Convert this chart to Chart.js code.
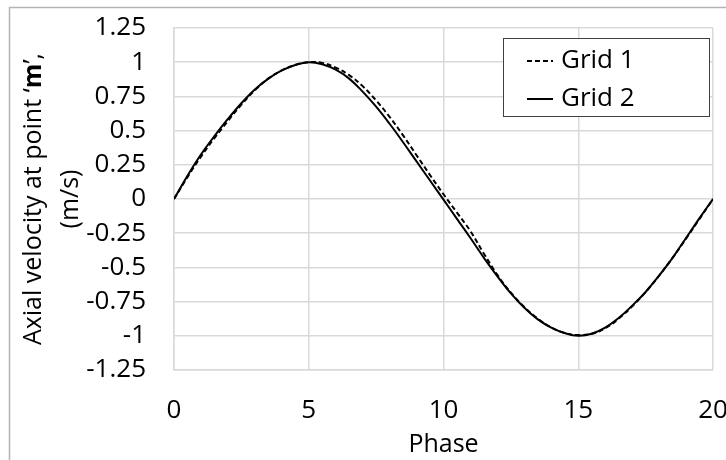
<!DOCTYPE html>
<html>
<head>
<meta charset="utf-8">
<script src="https://cdn.jsdelivr.net/npm/chart.js@4.4.0/dist/chart.umd.min.js"></script>
<style>
  html, body { margin: 0; padding: 0; background: #fff; }
</style>
</head>
<body>
<canvas id="velocity" width="726" height="460"></canvas>
<script>
// phase values (x) shared by both grids
const phase = [0, 0.5, 1, 1.5, 2, 2.5, 3, 3.5, 4, 4.5, 5, 5.5, 6, 6.5, 7, 7.5, 8, 8.5, 9, 9.5, 10,
  10.5, 11, 11.5, 12, 12.5, 13, 13.5, 14, 14.5, 15, 15.5, 16, 16.5, 17, 17.5, 18, 18.5, 19, 19.5, 20];

// Grid 1 (dashed)
const grid1 = [0, 0.16, 0.31, 0.445, 0.57, 0.69, 0.795, 0.88, 0.94, 0.98, 1.0, 0.995, 0.96, 0.905, 0.825, 0.72, 0.60, 0.465, 0.32, 0.175, 0.035,
  -0.10, -0.235, -0.40, -0.555, -0.685, -0.79, -0.875, -0.94, -0.98, -0.995, -0.985, -0.945, -0.875, -0.785, -0.68, -0.56, -0.43, -0.29, -0.145, 0];

// Grid 2 (solid)
const grid2 = [0, 0.17, 0.325, 0.46, 0.585, 0.70, 0.80, 0.88, 0.94, 0.98, 1.0, 0.985, 0.945, 0.88, 0.785, 0.675, 0.55, 0.415, 0.275, 0.135, -0.005,
  -0.145, -0.285, -0.43, -0.565, -0.69, -0.795, -0.88, -0.94, -0.98, -1.0, -0.985, -0.94, -0.87, -0.78, -0.68, -0.56, -0.43, -0.285, -0.14, 0];

const seriesNames = ['Grid 1', 'Grid 2'];
const xTicks = [0, 5, 10, 15, 20];
const yTicks = [-1.25, -1, -0.75, -0.5, -0.25, 0, 0.25, 0.5, 0.75, 1, 1.25];

const FONT = "'Open Sans', sans-serif";
const INK = '#000';

function toPoints(ys) {
  return phase.map((p, i) => ({ x: p, y: ys[i] }));
}

// outer frame of the chart object (runs off the right/bottom edge)
const frame = {
  id: 'frame',
  beforeDraw(chart) {
    const ctx = chart.ctx;
    ctx.save();
    ctx.strokeStyle = '#b4b4b4';
    ctx.lineWidth = 1.5;
    ctx.strokeRect(9.5, 7.5, 800, 600);
    ctx.restore();
  }
};

// two-line y title with bold m
const yTitle = {
  id: 'yTitle',
  afterDraw(chart) {
    const ctx = chart.ctx;
    const a = chart.chartArea;
    const cy = (a.top + a.bottom) / 2;
    const size = 25;
    ctx.save();
    ctx.fillStyle = INK;
    ctx.textBaseline = 'middle';
    ctx.translate(34, cy);
    ctx.rotate(-Math.PI / 2);
    const parts = [
      { t: 'Axial velocity at point \u2018', b: false },
      { t: 'm', b: true },
      { t: '\u2019,', b: false }
    ];
    let total = 0;
    parts.forEach(p => {
      ctx.font = (p.b ? 'bold ' : '') + size + 'px ' + FONT;
      p.w = ctx.measureText(p.t).width;
      total += p.w;
    });
    let x = -total / 2;
    ctx.textAlign = 'left';
    parts.forEach(p => {
      ctx.font = (p.b ? 'bold ' : '') + size + 'px ' + FONT;
      ctx.fillText(p.t, x, 0);
      x += p.w;
    });
    ctx.restore();

    ctx.save();
    ctx.fillStyle = INK;
    ctx.textBaseline = 'middle';
    ctx.textAlign = 'center';
    ctx.font = size + 'px ' + FONT;
    ctx.translate(71, cy);
    ctx.rotate(-Math.PI / 2);
    ctx.fillText('(m/s)', 0, 0);
    ctx.restore();
  }
};

// boxed legend in the upper right of the plot
const legendBox = {
  id: 'legendBox',
  afterDraw(chart) {
    const ctx = chart.ctx;
    const a = chart.chartArea;
    const bx = a.right - 210, by = a.top + 10, bw = 206, bh = 78;
    ctx.save();
    ctx.fillStyle = '#fff';
    ctx.fillRect(bx, by, bw, bh);
    ctx.strokeStyle = '#404040';
    ctx.lineWidth = 1;
    ctx.strokeRect(bx + 0.5, by + 0.5, bw, bh);
    ctx.font = '26px ' + FONT;
    ctx.textBaseline = 'middle';
    ctx.textAlign = 'left';
    chart.data.datasets.forEach((ds, i) => {
      const y = by + 23 + i * 38;
      ctx.strokeStyle = ds.borderColor;
      ctx.lineWidth = ds.borderWidth;
      ctx.setLineDash(ds.borderDash || []);
      ctx.beginPath();
      ctx.moveTo(bx + 24, y);
      ctx.lineTo(bx + 50, y);
      ctx.stroke();
      ctx.setLineDash([]);
      ctx.fillStyle = INK;
      ctx.fillText(ds.label, bx + 58, y);
    });
    ctx.restore();
  }
};

new Chart(document.getElementById('velocity'), {
  type: 'scatter',
  data: {
    datasets: [
      {
        label: seriesNames[0],
        data: toPoints(grid1),
        showLine: true,
        borderColor: '#000',
        borderWidth: 2,
        borderDash: [5, 3],
        pointRadius: 0,
        tension: 0.4
      },
      {
        label: seriesNames[1],
        data: toPoints(grid2),
        showLine: true,
        borderColor: '#000',
        borderWidth: 2,
        pointRadius: 0,
        tension: 0.4
      }
    ]
  },
  options: {
    responsive: false,
    animation: false,
    layout: { padding: { left: 0, top: 28, right: 13, bottom: 0 } },
    plugins: {
      legend: { display: false },
      tooltip: { enabled: false }
    },
    scales: {
      x: {
        type: 'linear',
        min: 0,
        max: 20,
        afterBuildTicks: s => { s.ticks = xTicks.map(v => ({ value: v })); },
        afterFit: s => { s.height = 90; s.paddingLeft = 0; s.paddingRight = 0; },
        grid: { color: '#d9d9d9', lineWidth: 1.5, drawTicks: false },
        border: { color: '#d9d9d9', width: 1.5 },
        ticks: { color: INK, font: { family: FONT, size: 26 }, padding: 25, maxRotation: 0 },
        title: { display: true, text: 'Phase', color: INK, font: { family: FONT, size: 25 }, padding: { top: 0, bottom: 0 } }
      },
      y: {
        min: -1.25,
        max: 1.25,
        afterBuildTicks: s => { s.ticks = yTicks.map(v => ({ value: v })); },
        afterFit: s => { s.width = 174; s.paddingTop = 0; s.paddingBottom = 0; },
        grid: { color: '#d9d9d9', lineWidth: 1.5, drawTicks: false },
        border: { color: '#d9d9d9', width: 1.5 },
        ticks: { color: INK, font: { family: FONT, size: 26 }, padding: 28, callback: v => String(v) }
      }
    }
  },
  plugins: [frame, yTitle, legendBox]
});
</script>
</body>
</html>
